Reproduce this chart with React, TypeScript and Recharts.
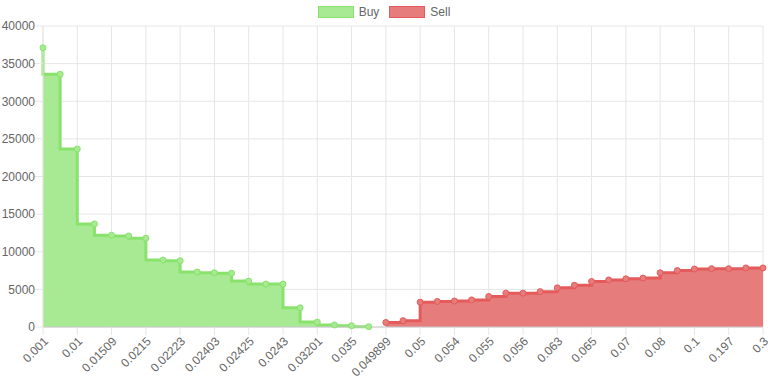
import React from 'react';
import { AreaChart, Area, XAxis, YAxis, CartesianGrid } from 'recharts';

// price levels (categories), every other one gets a label
const prices = [
  '0.001', '0.005', '0.01', '0.012', '0.01509', '0.018', '0.0215', '0.022', '0.02223', '0.0223',
  '0.02403', '0.0241', '0.02425', '0.0242', '0.0243', '0.03', '0.03201', '0.033', '0.035', '0.04',
  '0.049899', '0.0499', '0.05', '0.052', '0.054', '0.0545', '0.055', '0.0555', '0.056', '0.06',
  '0.063', '0.064', '0.065', '0.068', '0.07', '0.075', '0.08', '0.09', '0.1', '0.15',
  '0.197', '0.2', '0.3',
];

const buy = [
  37100, 33600, 23650, 13700, 12200, 12100, 11800, 8900, 8800, 7300,
  7200, 7150, 6100, 5700, 5700, 2550, 650, 270, 170, 40,
];

const sell = [
  600, 840, 3300, 3400, 3450, 3600, 4050, 4500, 4500, 4700,
  5200, 5550, 6050, 6250, 6400, 6500, 7200, 7500, 7700, 7750,
  7750, 7850, 7850,
];

const yTicks = [0, 5000, 10000, 15000, 20000, 25000, 30000, 35000, 40000];

const GREEN_LINE = '#88e26c';
const GREEN_FILL = '#a8ea93';
const RED_LINE = '#e35b5b';
const RED_FILL = '#e77c7c';
const FONT = '"Liberation Sans", Arial, Helvetica, sans-serif';

const data = prices.map((p, i) => ({
  price: p,
  buy: i < buy.length ? buy[i] : null,
  sell: i >= buy.length ? sell[i - buy.length] : null,
}));

function PriceTick({ x, y, payload }: any) {
  return (
    <text
      x={x + 3}
      y={y + 2}
      transform={`rotate(-45, ${x + 3}, ${y + 2})`}
      textAnchor="end"
      dy="0.35em"
      fontSize={12}
      fill="#666"
      fontFamily={FONT}
    >
      {payload.value}
    </text>
  );
}

function Legend() {
  const item = (label: string, fill: string, stroke: string) => (
    <div style={{ display: 'flex', alignItems: 'center', marginRight: 10 }}>
      <div style={{ width: 34, height: 10, background: fill, border: `1px solid ${stroke}`, marginRight: 5 }} />
      <span>{label}</span>
    </div>
  );
  return (
    <div
      style={{
        position: 'absolute', top: 5, left: 0, width: 768, display: 'flex', justifyContent: 'center',
        fontFamily: FONT, fontSize: 12, color: '#666', paddingLeft: 10, boxSizing: 'border-box',
      }}
    >
      {item('Buy', GREEN_FILL, GREEN_LINE)}
      {item('Sell', RED_FILL, RED_LINE)}
    </div>
  );
}

export default function App() {
  return (
    <div style={{ position: 'absolute', left: 0, top: 0, width: 768, height: 384, background: '#fff' }}>
      <Legend />
      <AreaChart width={768} height={384} data={data} margin={{ top: 26, right: 5, left: 0, bottom: 0 }}>
        <CartesianGrid stroke="#e6e6e6" />
        <XAxis
          dataKey="price"
          interval={1}
          height={57}
          tickSize={8}
          tickLine={{ stroke: '#e6e6e6' }}
          axisLine={{ stroke: '#c8c8c8' }}
          tick={<PriceTick />}
        />
        <YAxis
          width={43}
          domain={[0, 40000]}
          ticks={yTicks}
          tickSize={8}
          tickMargin={0}
          tickLine={{ stroke: '#e6e6e6' }}
          axisLine={{ stroke: '#e6e6e6' }}
          tick={{ fontSize: 12, fill: '#666', fontFamily: FONT }}
        />
        <Area
          type="stepBefore"
          dataKey="buy"
          stroke={GREEN_LINE}
          strokeWidth={3}
          fill={GREEN_FILL}
          fillOpacity={1}
          dot={{ r: 3, fill: GREEN_FILL, stroke: GREEN_LINE, strokeWidth: 1 }}
          activeDot={false}
          isAnimationActive={false}
        />
        <Area
          type="stepAfter"
          dataKey="sell"
          stroke={RED_LINE}
          strokeWidth={3}
          fill={RED_FILL}
          fillOpacity={1}
          dot={{ r: 3, fill: RED_FILL, stroke: RED_LINE, strokeWidth: 1 }}
          activeDot={false}
          isAnimationActive={false}
        />
      </AreaChart>
    </div>
  );
}
